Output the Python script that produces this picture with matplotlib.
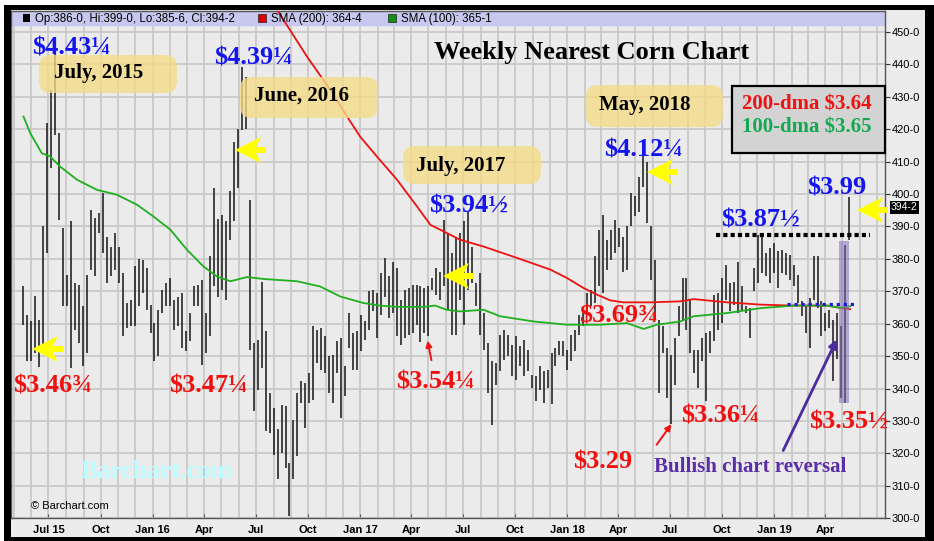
import numpy as np
import pandas as pd
import matplotlib
matplotlib.use('Agg')
import matplotlib.pyplot as plt
from matplotlib.patches import Rectangle, FancyBboxPatch, Polygon, FancyArrowPatch

W, H = 934, 541
SERIF = 'Liberation Serif'
SANS = 'Liberation Sans'

# weekly bars, first week 2015-05-18
first_week = '2015-05-18'
highs = [
    371.5, 362.8, 360.7, 368.6, 361.3, 390.2, 422.0, 432.1, 443.25, 418.8,
    389.5, 375.1, 391.6, 372.5, 372.0, 365.6, 375.1, 395.1, 392.6, 394.3,
    400.3, 386.9, 383.8, 388.0, 383.8, 375.6, 366.4, 367.4, 377.7, 380.0,
    379.7, 377.2, 365.9, 360.2, 364.3, 370.5, 372.5, 374.1, 367.4, 368.4,
    369.5, 357.7, 363.3, 371.5, 372.0, 373.6, 363.3, 380.8, 401.8, 392.3,
    393.6, 391.6, 400.8, 416.2, 420.0, 439.25, 436.0, 398.2, 354.1, 355.0,
    373.0, 357.7, 338.7, 334.0, 327.4, 335.0, 334.5, 317.0, 330.4, 338.7,
    342.2, 341.7, 344.8, 359.2, 358.2, 358.7, 356.1, 350.0, 350.5, 354.6,
    355.6, 346.9, 363.3, 357.1, 357.7, 362.8, 360.7, 370.0, 370.5, 369.5,
    375.6, 380.3, 374.6, 378.9, 377.2, 367.4, 370.5, 371.0, 372.0, 372.0,
    371.5, 371.0, 371.5, 374.1, 377.2, 376.1, 392.1, 388.0, 381.8, 386.9,
    388.0, 391.6, 394.5, 383.8, 372.5, 375.6, 363.3, 354.1, 348.4, 347.9,
    356.6, 358.2, 356.6, 353.5, 356.1, 353.0, 355.1, 352.0, 344.3, 343.8,
    346.9, 345.3, 345.8, 351.0, 352.5, 354.6, 354.6, 352.0, 356.6, 358.2,
    362.8, 363.3, 369.5, 370.5, 380.8, 389.0, 393.6, 385.9, 389.0, 392.1,
    389.5, 386.9, 390.0, 400.3, 399.3, 405.4, 412.25, 410.0, 390.0, 379.7,
    361.3, 359.2, 352.5, 350.5, 355.6, 365.4, 374.1, 374.1, 367.4, 352.0,
    352.0, 355.6, 357.1, 357.7, 369.0, 369.5, 374.1, 378.2, 372.5, 373.0,
    378.9, 371.5, 365.4, 364.8, 377.2, 387.5, 386.9, 381.8, 383.3, 384.9,
    382.3, 382.8, 381.8, 381.3, 378.2, 375.1, 366.9, 365.4, 367.9, 380.8,
    380.8, 366.9, 363.3, 364.3, 361.3, 363.3, 359.2, 384.4, 399.0,
]
lows = [
    359.7, 348.4, 348.4, 351.0, 346.75, 352.0, 381.8, 408.0, 418.3, 392.1,
    365.6, 365.4, 346.4, 358.2, 354.1, 346.9, 351.0, 376.7, 374.6, 388.0,
    381.8, 372.5, 374.6, 376.7, 372.5, 356.1, 358.7, 359.2, 359.2, 365.4,
    369.5, 364.3, 357.1, 348.4, 350.0, 363.3, 365.4, 365.4, 358.2, 359.2,
    352.5, 351.5, 354.6, 365.4, 365.4, 347.25, 351.0, 356.1, 371.5, 368.4,
    370.5, 367.4, 385.9, 391.6, 402.0, 419.8, 420.0, 352.0, 333.0, 339.7,
    346.4, 326.8, 326.3, 319.6, 312.0, 320.2, 315.5, 300.75, 312.0, 319.1,
    335.6, 327.9, 335.6, 336.6, 347.9, 345.8, 344.8, 338.7, 335.6, 344.8,
    331.0, 337.6, 352.5, 345.8, 345.8, 351.5, 355.1, 358.2, 363.8, 355.6,
    362.8, 368.4, 361.8, 363.3, 356.1, 353.5, 355.6, 356.6, 357.1, 359.7,
    354.25, 357.1, 356.3, 370.5, 369.0, 367.4, 371.5, 364.3, 356.6, 356.6,
    367.4, 359.7, 370.5, 372.5, 365.4, 356.6, 352.0, 338.7, 328.9, 341.2,
    345.3, 348.9, 350.0, 343.8, 342.8, 346.9, 343.8, 345.3, 340.2, 336.1,
    339.7, 335.6, 340.2, 335.1, 346.9, 350.5, 350.0, 345.8, 348.4, 351.5,
    356.6, 359.2, 363.3, 365.4, 366.4, 371.5, 369.5, 376.7, 379.7, 381.8,
    383.8, 376.1, 376.7, 390.0, 393.1, 394.6, 402.3, 391.0, 373.6, 361.3,
    338.7, 351.0, 337.1, 329.0, 341.2, 356.1, 360.7, 358.2, 351.0, 344.8,
    340.2, 348.4, 336.25, 351.0, 354.6, 358.2, 360.2, 367.4, 363.8, 365.9,
    363.3, 364.3, 363.3, 355.6, 370.0, 372.5, 375.6, 374.6, 372.5, 375.6,
    371.0, 375.6, 375.1, 373.6, 371.5, 366.4, 362.3, 357.1, 352.5, 367.4,
    364.8, 356.1, 357.7, 358.7, 342.2, 349.0, 337.1, 335.5, 385.75,
]

# moving averages, sampled at week offsets from first_week
sma200_week = [62.1, 65.5, 71.4, 77.3, 81.5, 84.8, 89.0, 94.1, 99.1, 102.5,
               105.8, 110.0, 115.9, 124.3, 132.7, 136.9, 141.1, 144.4, 147.8, 151.1,
               157.9, 165.4, 168.8, 177.2, 185.6, 194.0, 202.4, 205.7, 208.2]
sma200 = [460.0, 453.7, 442.4, 432.1, 423.9, 417.7, 411.6, 404.4, 396.2, 390.5,
          388.5, 385.9, 383.8, 380.3, 376.7, 374.1, 371.0, 369.0, 367.2, 366.6,
          366.6, 366.9, 367.6, 366.6, 365.9, 365.6, 365.6, 364.9, 364.5]
sma100_week = [0, 1.7, 4.6, 6.7, 9.2, 13.5, 18.5, 23.5, 28.6, 32.7,
               37.0, 41.2, 45.3, 48.7, 52.1, 56.3, 60.5, 68.9, 74.7, 79.8,
               85.6, 89.8, 94.1, 100.8, 103.7, 106.6, 110.0, 115.9, 120.1, 128.5,
               136.9, 145.3, 152.0, 156.2, 159.5, 165.4, 168.8, 177.2, 185.6, 194.0,
               202.4, 205.7, 208.2]
sma100 = [423.9, 418.8, 412.6, 411.6, 408.5, 404.4, 401.3, 399.8, 396.7, 393.1,
          389.0, 382.8, 377.7, 374.6, 373.1, 374.4, 373.8, 373.1, 371.5, 368.4,
          366.4, 365.6, 365.2, 365.2, 365.6, 364.3, 363.8, 364.3, 362.3, 360.7,
          359.7, 359.7, 360.2, 358.4, 359.7, 360.7, 362.3, 363.3, 364.8, 365.6,
          365.6, 364.9, 365.4]

resistance = 387.5
support = 366.0
reversal_low = 335.5
reversal_high = 385.6
y_ticks = list(range(300, 451, 10))
last_close = '394-2'


def week_dates(weeks):
    return pd.Timestamp(first_week) + pd.to_timedelta(np.asarray(weeks, dtype=float) * 7, unit='D')


def px(x, y):
    # reference pixel (top-left origin) -> inches for dpi_scale_trans
    return (x / 100.0, (H - y) / 100.0)


def block(fig, x0, y0, x1, y1, color, z=8, ec='none', lw=0):
    fig.add_artist(Rectangle(px(x0, y1), (x1 - x0) / 100.0, (y1 - y0) / 100.0,
                             transform=fig.dpi_scale_trans, fc=color, ec=ec, lw=lw, zorder=z))


def ftext(fig, x, y, s, **kw):
    kw.setdefault('ha', 'center')
    kw.setdefault('va', 'baseline')
    kw.setdefault('zorder', 7)
    fig.text(*px(x, y), s, transform=fig.dpi_scale_trans, **kw)


def yellow_arrow(fig, tx, ty):
    shape = [(0, 0), (26, -13), (21, -3), (31, -3), (31, 3), (21, 3), (26, 13)]
    pts = [px(tx + dx, ty + dy) for dx, dy in shape]
    fig.add_artist(Polygon(pts, closed=True, transform=fig.dpi_scale_trans,
                           fc='#ffff00', ec='none', zorder=9))


def line_arrow(fig, start, end, color, lw, scale):
    fig.add_artist(FancyArrowPatch(px(*start), px(*end), transform=fig.dpi_scale_trans,
                                   arrowstyle='-|>', mutation_scale=scale, lw=lw,
                                   color=color, zorder=8))


def plot_corn_chart():
    fig = plt.figure(figsize=(W / 100, H / 100), dpi=100, facecolor='white')
    block(fig, 4, 5, 934, 541, '#ececec', z=-5)

    ax = fig.add_axes([11 / W, (H - 518.3) / H, 874 / W, 507.8 / H])
    ax.set_facecolor('#ebebeb')

    dates = week_dates(np.arange(len(highs)))
    ax.vlines(dates, lows, highs, color='#151515', lw=1.1, zorder=3)
    ax.plot(week_dates(sma200_week), sma200, color='#ee1111', lw=1.3, zorder=4)
    ax.plot(week_dates(sma100_week), sma100, color='#1fb01f', lw=1.3, zorder=4)

    ax.hlines(resistance, week_dates(174.5), week_dates(213.1), colors='black',
              linestyles=(0, (1, 0.75)), lw=3, zorder=5)
    ax.hlines(support, week_dates(192.4), week_dates(210.0), colors='#1a1ad6',
              linestyles=(0, (1, 1.2)), lw=2.3, zorder=5)
    x0, x1 = week_dates([205.5, 208.0])
    ax.axvspan(x0, x1, ymin=(reversal_low - 300) / 156.6, ymax=(reversal_high - 300) / 156.6,
               fc='#8270b9', alpha=0.55, ec='none', zorder=4)

    ax.set_xlim(pd.Timestamp('2015-04-26'), pd.Timestamp('2019-07-15'))
    ax.set_ylim(300, 456.6)
    ax.axhspan(452.0, 456.6, color='#c7c7ef', zorder=2)

    quarters = pd.date_range('2015-07-01', '2019-04-01', freq='QS-JAN')
    months = pd.date_range('2015-05-01', '2019-07-01', freq='MS')
    labels = []
    for i, d in enumerate(quarters):
        labels.append(d.strftime('%b %y') if (i == 0 or d.month == 1) else d.strftime('%b'))
    ax.set_xticks(months, minor=True)
    ax.set_xticks(quarters)
    ax.set_xticklabels(labels, fontfamily=SANS, fontweight='bold', fontsize=8)
    ax.tick_params(axis='x', which='both', direction='in', length=3, color='#555555', pad=5)
    ax.tick_params(axis='x', which='minor', length=0)

    ax.yaxis.tick_right()
    ax.set_yticks(y_ticks)
    ax.set_yticklabels([str(v) + '-0' for v in y_ticks], fontfamily=SANS, fontsize=8)
    ax.tick_params(axis='y', direction='out', length=3.5, pad=1.5, color='#333333')

    ax.set_axisbelow(True)
    ax.grid(True, which='both', axis='x', color='#c6c6c6', lw=1.2)
    ax.grid(True, which='major', axis='y', color='#c6c6c6', lw=1.2)
    for s in ax.spines.values():
        s.set_color('#555555')
        s.set_linewidth(1)

    # header legend
    block(fig, 23, 14.5, 30, 21.5, 'black', z=7)
    ftext(fig, 35, 22, 'Op:386-0, Hi:399-0, Lo:385-6, Cl:394-2', ha='left',
          fontfamily=SANS, fontsize=8.3)
    block(fig, 258, 14.5, 266, 21.5, '#e00000', z=7, ec='#222222', lw=0.5)
    ftext(fig, 271, 22, 'SMA (200): 364-4', ha='left', fontfamily=SANS, fontsize=8.3)
    block(fig, 388, 14.5, 396, 21.5, '#109010', z=7, ec='#222222', lw=0.5)
    ftext(fig, 401, 22, 'SMA (100): 365-1', ha='left', fontfamily=SANS, fontsize=8.3)

    ftext(fig, 592, 59, 'Weekly Nearest Corn Chart', fontfamily=SERIF,
          fontweight='bold', fontsize=19)

    # month boxes
    for (bx0, by0, bx1, by1), (tx, ty), s in [
            ((39, 55, 177, 93), (98.5, 73), 'July, 2015'),
            ((240, 77, 378, 118), (302, 96), 'June, 2016'),
            ((403, 146, 541, 184), (461, 166), 'July, 2017'),
            ((586, 85, 723, 127), (645, 105), 'May, 2018')]:
        fig.add_artist(FancyBboxPatch(px(bx0, by1), (bx1 - bx0) / 100.0, (by1 - by0) / 100.0,
                                      boxstyle='round,pad=0,rounding_size=0.12',
                                      transform=fig.dpi_scale_trans, fc='#f5dc87',
                                      alpha=0.8, ec='none', zorder=6))
        ftext(fig, tx, ty, s, va='center', fontfamily=SERIF, fontweight='bold', fontsize=15)

    for s, x, y in [('$4.43¼', 72, 55), ('$4.39¼', 254, 65), ('$3.94½', 469, 213),
                    ('$4.12¼', 644, 157), ('$3.87½', 761, 227), ('$3.99', 837, 195)]:
        ftext(fig, x, y, s, color='#1515f0', fontfamily=SERIF, fontweight='bold', fontsize=19)
    for s, x, y in [('$3.46¾', 52, 393), ('$3.47¼', 209, 393), ('$3.54¼', 436, 388),
                    ('$3.69¾', 619, 323), ('$3.36¼', 720, 422), ('$3.29', 603, 468),
                    ('$3.35½', 849, 429)]:
        ftext(fig, x, y, s, color='#f01010', fontfamily=SERIF, fontweight='bold', fontsize=19)

    # dma box
    block(fig, 732, 86, 885, 153, '#d3d3d3', z=6, ec='black', lw=1.6)
    ftext(fig, 807, 105, '200-dma $3.64', va='center', color='#ee1111',
          fontfamily=SERIF, fontweight='bold', fontsize=15)
    ftext(fig, 807, 128, '100-dma $3.65', va='center', color='#14a850',
          fontfamily=SERIF, fontweight='bold', fontsize=15)

    for tx, ty in [(32, 349), (235, 150), (443, 276), (647, 172), (857, 210)]:
        yellow_arrow(fig, tx, ty)

    line_arrow(fig, (782, 453), (838, 337), '#4b2c9e', 2.0, 12)
    line_arrow(fig, (655, 447), (673, 422), '#ee1111', 1.4, 9)
    line_arrow(fig, (432, 363), (427, 338), '#ee1111', 1.4, 9)
    ftext(fig, 750, 472, 'Bullish chart reversal', color='#5a2ea6',
          fontfamily=SERIF, fontweight='bold', fontsize=15)

    ftext(fig, 157, 478, 'Barchart.com', color='#bdfcff', fontfamily=SERIF,
          fontweight='bold', fontsize=18.5)
    ftext(fig, 31, 509, '© Barchart.com', ha='left', fontfamily=SANS, fontsize=8)

    ftext(fig, 904.5, 207.5, last_close, va='center', color='white', fontfamily=SANS,
          fontsize=7.5, bbox=dict(boxstyle='square,pad=0.15', fc='black', ec='none'))

    # outer frame
    block(fig, 4, 5, 11, 541, 'black', z=10)
    block(fig, 4, 5, 934, 10, 'black', z=10)
    block(fig, 925, 5, 934, 541, 'black', z=10)
    block(fig, 4, 537, 934, 541, 'black', z=10)

    fig.savefig('out.png', dpi=100, facecolor='white')


if __name__ == '__main__':
    plot_corn_chart()
